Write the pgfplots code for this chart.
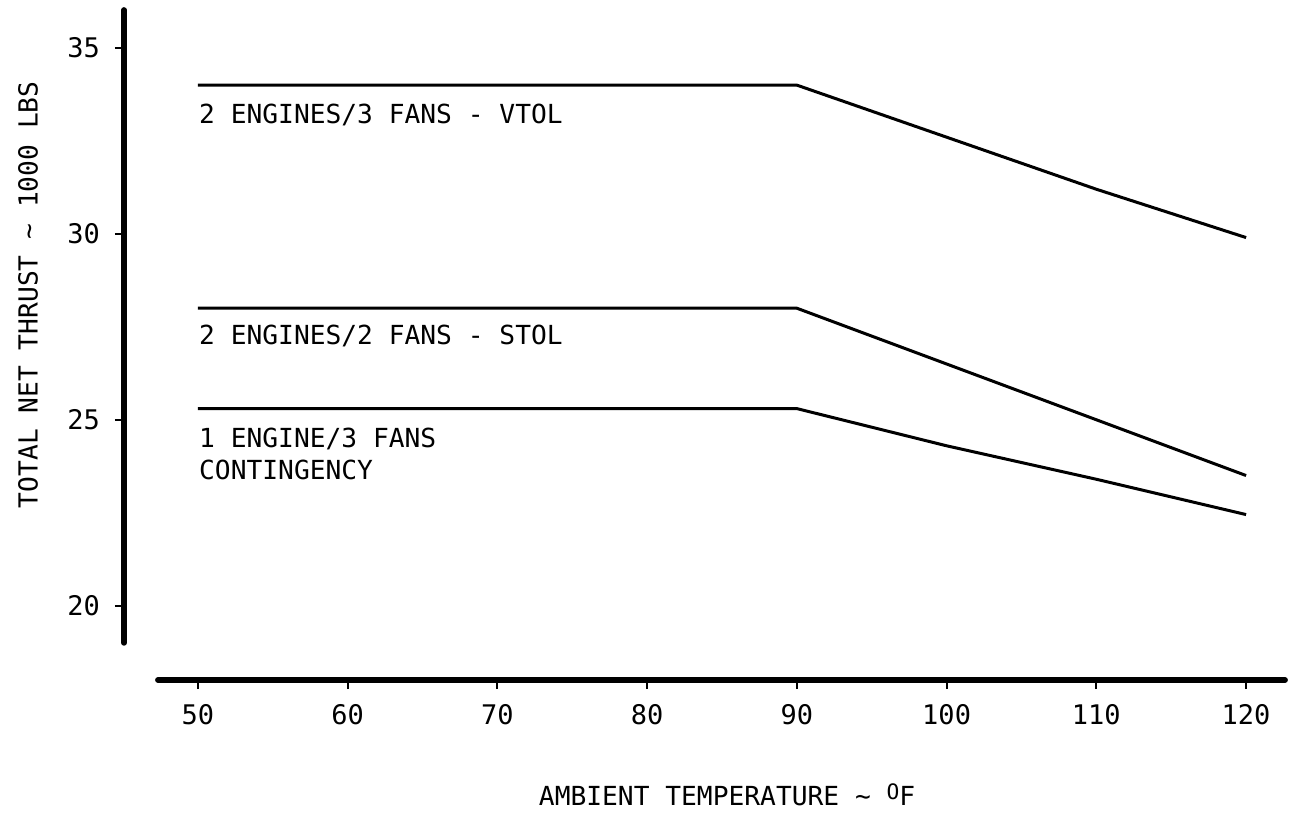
\documentclass[border=0pt]{standalone}
\usepackage{fontspec}
\setmonofont{DejaVu Sans Mono}
\usepackage{pgfplots}
\pgfplotsset{compat=1.18}
\begin{document}
\begin{tikzpicture}
\begin{axis}[
  scale only axis,
  width=464.4pt, height=268pt,
  xmin=45.06, xmax=122.6,
  ymin=18.0, ymax=36.02,
  axis x line*=bottom, axis y line*=left,
  axis line style={draw=none},
  clip=false,
  xtick={50,60,...,120},
  ytick={20,25,30,35},
  tick align=outside,
  major tick length=3.6pt,
  tick style={black, line width=0.8pt},
  ticklabel style={font=\ttfamily\fontsize{10.8}{12}\selectfont},
  /pgf/number format/assume math mode=true,
  xticklabel style={yshift=-2.5pt},
  yticklabel style={xshift=-2.5pt},
]
\path (axis cs:36.78,14.16) rectangle (axis cs:123.0,36.29);
\draw[line width=2.3pt, line cap=round] (axis cs:45.06,19.0) -- (axis cs:45.06,36.02);
\draw[line width=2.3pt, line cap=round] (axis cs:47.33,18.0) -- (axis cs:122.6,18.0);

\addplot[black, line width=1.2pt] coordinates {(50,34.0) (90,34.0) (100,32.6) (110,31.2) (120,29.9)};
\addplot[black, line width=1.2pt] coordinates {(50,28.0) (90,28.0) (100,26.5) (110,25.0) (120,23.5)};
\addplot[black, line width=1.2pt] coordinates {(50,25.3) (90,25.3) (100,24.3) (110,23.4) (120,22.45)};

\begin{scope}[every node/.style={font=\ttfamily\fontsize{10.5}{12}\selectfont, inner sep=0pt}]
\node[anchor=base west] at (axis cs:50.05,32.98) {2 ENGINES/3 FANS - VTOL};
\node[anchor=base west] at (axis cs:50.05,27.02) {2 ENGINES/2 FANS - STOL};
\node[anchor=base west] at (axis cs:50.05,24.25) {1 ENGINE/3 FANS};
\node[anchor=base west] at (axis cs:50.05,23.39) {CONTINGENCY};
\node[anchor=center] at (axis cs:85.34,14.91) {AMBIENT TEMPERATURE \textasciitilde{} \raisebox{0.45ex}{\fontsize{8.5}{10}\selectfont O}F};
\node[anchor=center, rotate=90] at (axis cs:38.65,28.36) {TOTAL NET THRUST \textasciitilde{} 1000 LBS};
\end{scope}
\end{axis}
\end{tikzpicture}
\end{document}
